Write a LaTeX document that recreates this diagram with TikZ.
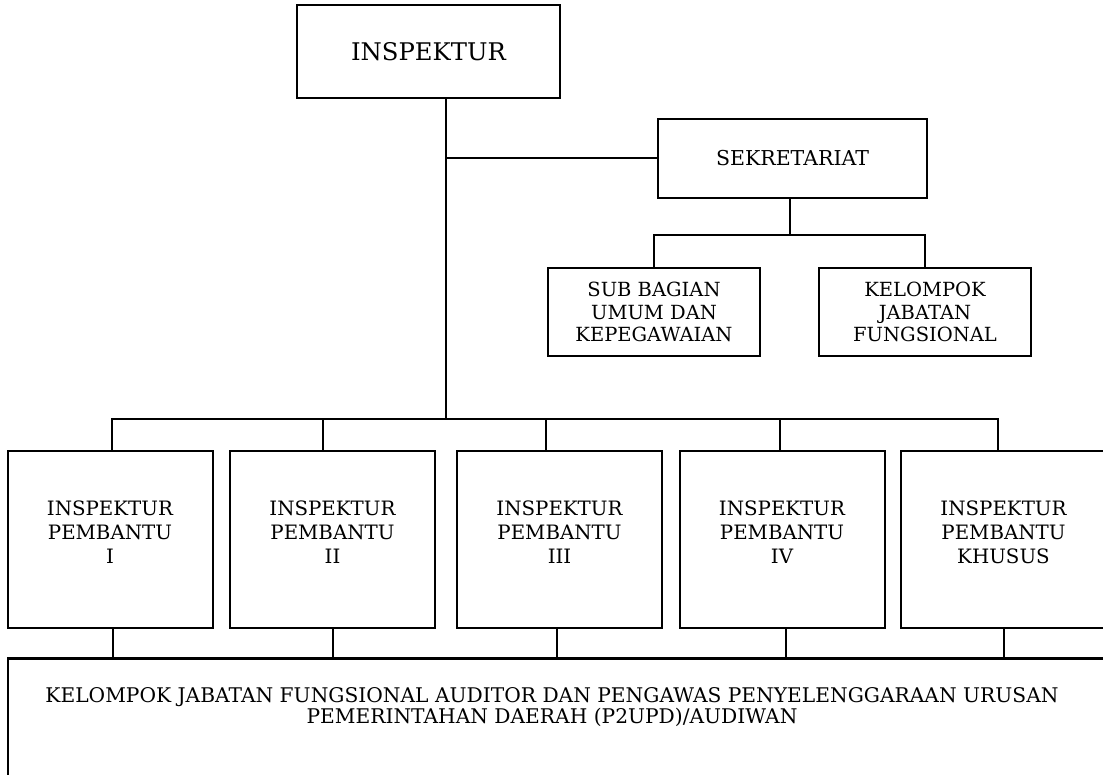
\documentclass[tikz,border=0pt]{standalone}
\usepackage{fontspec}
\setmainfont{DejaVu Serif}
\begin{document}
\begin{tikzpicture}[x=1pt,y=-1pt,line width=2pt,
  box/.style={draw, rectangle, inner sep=0pt, align=center, font=\fontsize{19.5}{22.5}\selectfont},
  ipbox/.style={draw, rectangle, inner sep=0pt, minimum width=205pt, minimum height=177pt,
    label={[align=center, font=\fontsize{19.8}{24}\selectfont, yshift=7.5pt]center:#1}},
  thickline/.style={line width=3pt}]
\useasboundingbox (0,0) rectangle (1103,774);
\clip (0,0) rectangle (1103,774);
% boxes
\node[box, minimum width=263pt, minimum height=93pt, font=\fontsize{24.3}{28}\selectfont] (insp) at (428.5,51.5) {INSPEKTUR};
\node[box, minimum width=269pt, minimum height=79pt, font=\fontsize{20.5}{24}\selectfont] (sek) at (792.5,158) {SEKRETARIAT};
\node[box, minimum width=212pt, minimum height=88pt] (sub1) at (654,312) {SUB BAGIAN\\UMUM DAN\\KEPEGAWAIAN};
\node[box, minimum width=212pt, minimum height=88pt] (sub2) at (925,312) {KELOMPOK\\JABATAN\\FUNGSIONAL};
\node[ipbox={INSPEKTUR\\PEMBANTU\\I}] (ip1) at (110,539.5) {};
\node[ipbox={INSPEKTUR\\PEMBANTU\\II}] (ip2) at (332.5,539.5) {};
\node[ipbox={INSPEKTUR\\PEMBANTU\\III}] (ip3) at (559.5,539.5) {};
\node[ipbox={INSPEKTUR\\PEMBANTU\\IV}] (ip4) at (782,539.5) {};
\node[ipbox={INSPEKTUR\\PEMBANTU\\KHUSUS}] (ip5) at (1003.5,539.5) {};
\node[draw, rectangle, inner sep=0pt, minimum width=1110pt, minimum height=130pt, anchor=north west] (bot) at (7,658) {};
\node[align=center, inner sep=0pt, font=\fontsize{20.2}{21}\selectfont] (bottxt) at (552,707)
  {KELOMPOK JABATAN FUNGSIONAL AUDITOR DAN PENGAWAS PENYELENGGARAAN URUSAN\\PEMERINTAHAN DAERAH (P2UPD)/AUDIWAN};
\draw[thickline] (bot.north west) -- (bot.north east);
% connectors
\coordinate (j0) at (446,419);
\draw (insp.south -| j0) -- (j0);
\draw (sek.west) -- (sek.west -| j0);
\coordinate (sj) at (790,235);
\draw (sek.south -| sj) -- (sj);
\draw (sub1.north) -- (sub1.north |- sj) -- (sub2.north |- sj) -- (sub2.north);
\coordinate (b1) at (112,419);
\coordinate (b2) at (323,419);
\coordinate (b3) at (546,419);
\coordinate (b4) at (780,419);
\coordinate (b5) at (998,419);
\draw (b1 |- ip1.north) -- (b1) -- (b5) -- (b5 |- ip5.north);
\draw (b2) -- (b2 |- ip2.north);
\draw (b3) -- (b3 |- ip3.north);
\draw (b4) -- (b4 |- ip4.north);
\draw ([xshift=3pt]ip1.south) -- ([xshift=3pt]ip1.south |- bot.north);
\draw (ip2.south) -- (ip2.south |- bot.north);
\draw ([xshift=-3pt]ip3.south) -- ([xshift=-3pt]ip3.south |- bot.north);
\draw ([xshift=4pt]ip4.south) -- ([xshift=4pt]ip4.south |- bot.north);
\draw (ip5.south) -- (ip5.south |- bot.north);
\end{tikzpicture}
\end{document}
